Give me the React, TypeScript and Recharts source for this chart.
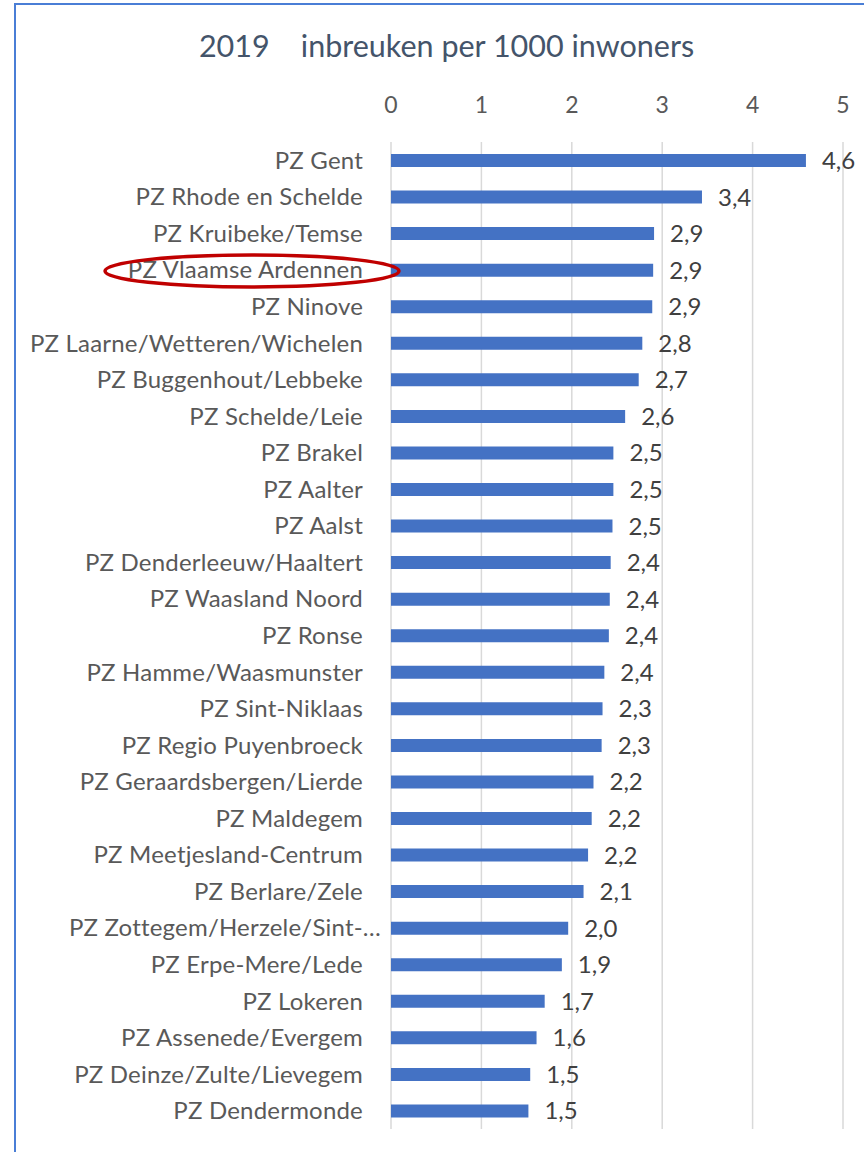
import React from "react";
import { BarChart, Bar, XAxis, YAxis, CartesianGrid, LabelList } from "recharts";

const categories = [
  "PZ Gent",
  "PZ Rhode en Schelde",
  "PZ Kruibeke/Temse",
  "PZ Vlaamse Ardennen",
  "PZ Ninove",
  "PZ Laarne/Wetteren/Wichelen",
  "PZ Buggenhout/Lebbeke",
  "PZ Schelde/Leie",
  "PZ Brakel",
  "PZ Aalter",
  "PZ Aalst",
  "PZ Denderleeuw/Haaltert",
  "PZ Waasland Noord",
  "PZ Ronse",
  "PZ Hamme/Waasmunster",
  "PZ Sint-Niklaas",
  "PZ Regio Puyenbroeck",
  "PZ Geraardsbergen/Lierde",
  "PZ Maldegem",
  "PZ Meetjesland-Centrum",
  "PZ Berlare/Zele",
  "PZ Zottegem/Herzele/Sint-…",
  "PZ Erpe-Mere/Lede",
  "PZ Lokeren",
  "PZ Assenede/Evergem",
  "PZ Deinze/Zulte/Lievegem",
  "PZ Dendermonde",
];

const values = [
  4.59, 3.44, 2.91, 2.9, 2.89, 2.78, 2.74, 2.59, 2.46, 2.46, 2.45, 2.43, 2.42,
  2.41, 2.36, 2.34, 2.33, 2.24, 2.22, 2.18, 2.13, 1.96, 1.89, 1.7, 1.61, 1.54,
  1.52,
];

const xTicks = [0, 1, 2, 3, 4, 5];

const highlighted = "PZ Vlaamse Ardennen";

const FONT = "Lato, 'Noto Sans', sans-serif";

const data = categories.map((name, i) => ({ name, value: values[i] }));

// comma decimal, one digit
const fmt = (v: number) => (Math.round(v * 10) / 10).toFixed(1).replace(".", ",");

function CategoryTick(props: any) {
  const { x, y, payload } = props;
  const label: string = payload.value;
  const truncated = label.endsWith("…");
  return (
    <g>
      <text
        x={truncated ? x + 18 : x}
        y={y}
        dy={8.5}
        textAnchor="end"
        fill="#595959"
        fontSize={24}
        letterSpacing={0.2}
        fontFamily={FONT}
      >
        {label}
      </text>
      {label === highlighted && (
        <ellipse
          cx={x - 111}
          cy={y + 1}
          rx={147}
          ry={16}
          fill="none"
          stroke="#c00000"
          strokeWidth={3.5}
        />
      )}
    </g>
  );
}

export default function App() {
  return (
    <div
      style={{
        position: "absolute",
        left: 0,
        top: 0,
        width: 864,
        height: 1152,
        overflow: "hidden",
        background: "#fff",
        fontFamily: FONT,
      }}
    >
      <div
        style={{
          position: "absolute",
          left: 14,
          top: 3,
          width: 900,
          height: 1200,
          borderLeft: "2.5px solid #4a7ed6",
          borderTop: "2.5px solid #4a7ed6",
        }}
      />
      <div
        style={{
          position: "absolute",
          left: 0,
          width: 893,
          top: 27,
          textAlign: "center",
          whiteSpace: "pre",
          fontSize: 30.5,
          color: "#44546a",
        }}
      >
        {"2019    inbreuken per 1000 inwoners"}
      </div>
      <BarChart
        width={864}
        height={1152}
        data={data}
        layout="vertical"
        margin={{ top: 62, right: 21, bottom: 23, left: 0 }}
        barSize={13}
      >
        <CartesianGrid horizontal={false} stroke="#d9d9d9" strokeWidth={1.5} />
        <XAxis
          type="number"
          orientation="top"
          domain={[0, 5]}
          ticks={xTicks}
          axisLine={false}
          tickLine={false}
          tickMargin={23}
          height={80}
          tick={{ fill: "#595959", fontSize: 23, fontFamily: FONT }}
        />
        <YAxis
          type="category"
          dataKey="name"
          width={391}
          axisLine={false}
          tickLine={false}
          tickMargin={22}
          interval={0}
          tick={<CategoryTick />}
        />
        <Bar dataKey="value" fill="#4472c4" isAnimationActive={false}>
          <LabelList
            dataKey="value"
            position="right"
            offset={16}
            formatter={(v: any) => fmt(Number(v))}
            fill="#404040"
            fontSize={24}
            fontFamily={FONT}
          />
        </Bar>
      </BarChart>
    </div>
  );
}
